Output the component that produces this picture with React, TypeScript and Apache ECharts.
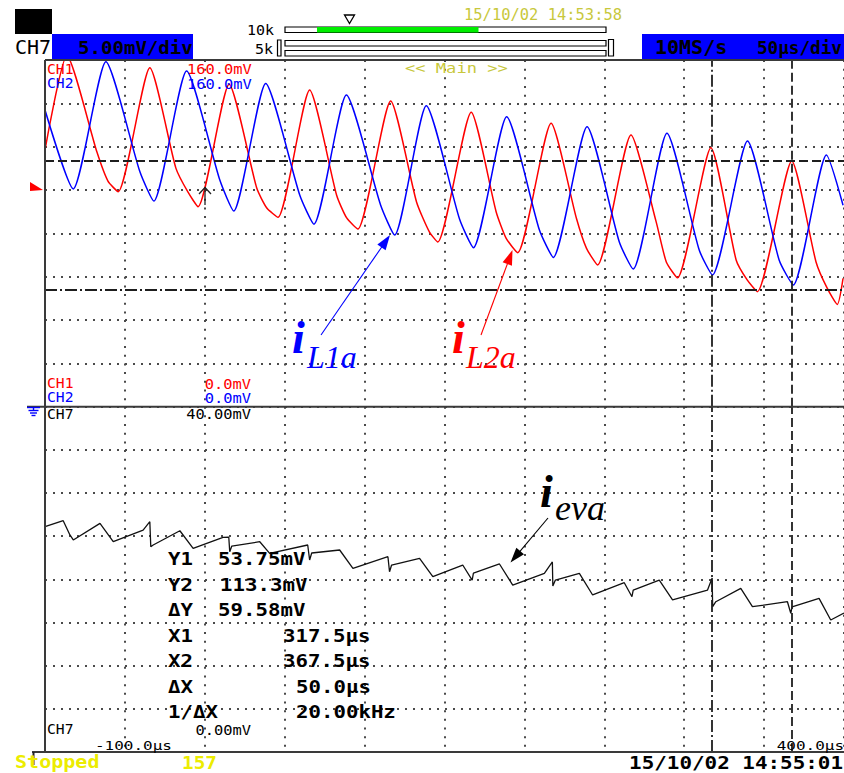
import React, { useEffect, useRef } from "react";
import * as echarts from "echarts";

// ---------------- data ----------------
const TIME_MIN = -100;
const TIME_MAX = 400;
const TIME_DIV = 50;
const CH12_MAX = 160;
const CH12_DIV = 20;
const CH7_MAX = 40;
const CH7_DIV = 5;

// CH1 (red, i_L2a) [µs, mV]
const ch1: number[][] = [
  [-100, 118.5], [-86.3, 162], [-67.5, 117.5], [-60.6, 104.1], [-54.2, 99.2],
  [-34.4, 156.4], [-18.1, 110.1], [-10.6, 99.1], [-4.2, 92.3],
  [15.2, 148.8], [32.5, 100.9], [38.8, 91.7], [45.8, 87.4],
  [65.6, 146.1], [82.5, 97.6], [88.8, 87.1], [95.8, 82.0],
  [116.3, 141.1], [132.5, 94.5], [140.6, 80.6], [145.8, 76.0],
  [166.7, 135.9], [182.3, 90.0], [188.6, 77.7], [195.8, 71.1],
  [216.7, 130.8], [232.5, 87.1], [238.8, 73.2], [245.8, 65.4],
  [266.7, 125.4], [282.5, 85.2], [288.8, 66.8], [295.8, 59.5],
  [316.7, 119.5], [332.5, 67.7], [339.4, 58.5], [345.8, 53.1],
  [367.3, 113.4], [382.5, 66.8], [389.4, 54.8], [395.8, 47.2],
  [399.4, 59.2],
];

// CH2 (blue, i_L1a) [µs, mV]
const ch2: number[][] = [
  [-100, 136.9], [-82.3, 100.5], [-61.9, 159.2], [-40.6, 108.4], [-31.9, 94.9],
  [-11.4, 154.9], [9.4, 104.6], [18.1, 90.3], [38.1, 149.2], [59.4, 97.7],
  [68.3, 84.2], [88.6, 143.8], [110.0, 93.1], [118.8, 79.2], [138.6, 138.9],
  [159.4, 86.6], [168.1, 73.4], [188.9, 133.8], [209.4, 81.5], [218.1, 68.9],
  [239.2, 129.2], [259.4, 76.0], [268.1, 63.5], [289.2, 126.2], [309.4, 72.3],
  [317.7, 60.8], [339.6, 122.6], [359.4, 67.7], [368.3, 56.2], [389.0, 116.2],
  [399.4, 93.0],
];

// CH7 (black, i_eva) [µs, mV]
const ch7: number[][] = [
  [-100, 26.1], [-88.6, 26.79], [-84.4, 25.14], [-82.3, 24.56], [-65.6, 26.49],
  [-57.3, 24.36], [-38.6, 25.71], [-34.4, 26.68], [-33.8, 23.78], [-32.3, 23.98],
  [-15.6, 25.63], [-7.3, 23.59], [11.4, 24.87], [15.0, 24.9], [15.6, 23.2],
  [16.9, 23.86], [34.4, 24.36], [40.6, 23.01], [64.4, 23.98], [65.6, 22.24],
  [66.9, 23.05], [84.4, 23.4], [92.7, 21.28], [114.6, 22.62], [115.6, 20.88],
  [116.9, 21.66], [134.4, 22.44], [142.7, 20.31], [161.4, 21.66], [167.3, 19.92],
  [168.1, 20.73], [184.4, 21.78], [192.7, 19.34], [212.5, 20.7], [217.5, 22.01],
  [217.8, 19.23], [219.4, 19.92], [234.4, 20.7], [242.7, 18.19], [262.5, 19.61],
  [267.3, 17.99], [268.1, 18.76], [284.4, 19.92], [292.7, 17.61], [314.6, 18.76],
  [317.5, 20.15], [317.8, 16.83], [319.8, 17.41], [335.4, 18.96], [342.7, 16.83],
  [364.6, 17.41], [366.7, 16.07], [367.5, 16.8], [384.4, 17.8], [391.7, 15.29],
  [400, 16.1],
];

const cursorX = [317.5, 367.5];
const cursorY = [53.75, 113.3];

const readoutNames = ["Y1", "Y2", "\u0394Y", "X1", "X2", "\u0394X", "1/\u0394X"];
const readoutValues = ["53.75mV", "113.3mV", "59.58mV", "317.5\u00b5s", "367.5\u00b5s", "50.0\u00b5s", "20.00kHz"];

const headerScale = "5.00mV/div";
const headerRate = "10MS/s";
const headerTime = "50\u00b5s/div";
const topDate = "15/10/02 14:53:58";
const bottomDate = "15/10/02 14:55:01";
const ch12Top = "160.0mV";
const ch12Zero = "0.0mV";
const ch7Top = "40.00mV";
const ch7Zero = "0.00mV";
const timeStart = "-100.0\u00b5s";
const timeEnd = "400.0\u00b5s";

// ---------------- styles ----------------
const MONO = "'DejaVu Sans Mono', 'Liberation Mono', monospace";
const SERIF = "'Liberation Serif', 'DejaVu Serif', serif";
const RED = "#ff0000";
const BLUE = "#0000ff";
const OLIVE = "#c8c83c";
const YEL = "#ecec00";
const FRAME = "#3a3a3a";

function txt(x: number, y: number, text: string, size: number, color: string, o: any = {}) {
  const align = o.align || "left";
  return {
    type: "text",
    x,
    y,
    scaleX: o.sx || 1,
    z: 120,
    style: {
      text,
      fill: color,
      font: `${o.italic ? "italic " : ""}${o.bold ? "bold " : ""}${size}px ${o.family || MONO}`,
      align,
      verticalAlign: "middle",
      textAlign: align,
      textVerticalAlign: "middle",
    },
  };
}

function ln(x1: number, y1: number, x2: number, y2: number, color: string, w: number) {
  return { type: "line", z: 110, shape: { x1, y1, x2, y2 }, style: { stroke: color, lineWidth: w } };
}

function arrow(x1: number, y1: number, x2: number, y2: number, color: string) {
  const dx = x2 - x1;
  const dy = y2 - y1;
  const L = Math.sqrt(dx * dx + dy * dy);
  const ux = dx / L;
  const uy = dy / L;
  const hl = 15;
  const hw = 5;
  const bx = x2 - ux * hl;
  const by = y2 - uy * hl;
  return [
    ln(x1, y1, bx + ux * 2, by + uy * 2, color, 1.1),
    {
      type: "polygon",
      z: 111,
      shape: { points: [[x2, y2], [bx - uy * hw, by + ux * hw], [bx + uy * hw, by - ux * hw]] },
      style: { fill: color },
    },
  ];
}

function rect(x: number, y: number, w: number, h: number, fill: string, stroke?: string) {
  return {
    type: "rect",
    z: 105,
    shape: { x, y, width: w, height: h },
    style: { fill, stroke: stroke || null, lineWidth: stroke ? 1.2 : 0 },
  };
}

const DASHED = [9, 4];
const DASHDOT = [12, 3, 2, 3];

export default function App() {
  const ref = useRef<HTMLDivElement>(null);

  useEffect(() => {
    if (!ref.current) return;
    const chart = echarts.init(ref.current, null, { renderer: "svg", width: 844, height: 773 });

    const rowY = [559, 585, 610, 636, 661, 687, 712];
    const valX = [218, 220, 218, 283, 283, 296, 296];

    const graphics: any[] = [
      // header
      rect(15, 9, 37, 25, "#000"),
      txt(15, 47, "CH7", 20, "#000"),
      rect(52, 34, 141, 26, BLUE),
      txt(78, 47.5, headerScale, 18, "#000", { bold: true, sx: 1.06 }),
      txt(247, 30.5, "10k", 14, "#000", { sx: 1.07 }),
      txt(255, 49, "5k", 14, "#000", { sx: 1.07 }),
      rect(285, 27, 321, 5.5, "#fff", "#000"),
      rect(317, 27, 161.5, 5.5, "#00ee00"),
      rect(277.5, 40, 3.5, 16, "#fff", "#000"),
      rect(285, 40.5, 321, 5.5, "#fff", "#000"),
      rect(285, 50.5, 321, 5.5, "#fff", "#000"),
      rect(608.5, 39.5, 5, 16.5, "#fff", "#000"),
      {
        type: "polygon",
        z: 110,
        shape: { points: [[344.5, 15], [354.5, 15], [349.5, 23.5]] },
        style: { fill: "none", stroke: "#000", lineWidth: 1.3 },
      },
      txt(464, 15.5, topDate, 15, OLIVE, { sx: 1.03 }),
      rect(642, 34, 203, 26, BLUE),
      txt(655, 47, headerRate, 20, "#000", { bold: true }),
      txt(757, 47, headerTime, 18, "#000", { bold: true, sx: 0.98 }),

      // frame
      ln(45, 60, 845, 60, FRAME, 2),
      ln(45, 60, 45, 752, FRAME, 2),
      ln(27, 406.7, 845, 406.7, FRAME, 2),
      ln(32, 752, 845, 752, FRAME, 2),
      ln(33.5, 752, 33.5, 765, "#222", 2),

      // trigger markers
      {
        type: "polygon",
        z: 110,
        shape: { points: [[30, 182], [43, 190], [30, 191]] },
        style: { fill: RED },
      },
      ln(205, 187, 205, 205, "#222", 1.3),
      {
        type: "polyline",
        z: 110,
        shape: { points: [[199, 194], [205, 187.5], [211, 194]] },
        style: { stroke: "#222", lineWidth: 1.3, fill: "none" },
      },
      // ground symbol
      ln(27, 407.5, 40, 407.5, BLUE, 1.4),
      ln(33.5, 407.5, 33.5, 410, BLUE, 1.4),
      ln(28.5, 410.5, 38.5, 410.5, BLUE, 1.4),
      ln(30, 413, 37, 413, BLUE, 1.4),
      ln(31.5, 415.5, 35.5, 415.5, BLUE, 1.4),

      // channel labels
      txt(47, 69, "CH1", 14, RED, { sx: 1.05 }),
      txt(187, 69, ch12Top, 14, RED, { sx: 1.1 }),
      txt(47, 83.5, "CH2", 14, BLUE, { sx: 1.05 }),
      txt(187, 83.5, ch12Top, 14, BLUE, { sx: 1.1 }),
      txt(405, 69, "<< Main >>", 14, OLIVE, { sx: 1.22 }),
      txt(47, 383.5, "CH1", 14, RED, { sx: 1.05 }),
      txt(251, 383.5, ch12Zero, 14, RED, { sx: 1.1, align: "right" }),
      txt(47, 397.5, "CH2", 14, BLUE, { sx: 1.05 }),
      txt(251, 397.5, ch12Zero, 14, BLUE, { sx: 1.1, align: "right" }),
      txt(47, 414, "CH7", 14, "#000", { sx: 1.05 }),
      txt(251, 414, ch7Top, 14, "#000", { sx: 1.1, align: "right" }),
      txt(47, 729.5, "CH7", 14, "#000", { sx: 1.05 }),
      txt(251, 729.5, ch7Zero, 14, "#000", { sx: 1.1, align: "right" }),
      txt(95, 745.5, timeStart, 13, "#000", { sx: 1.23 }),
      txt(844, 745.5, timeEnd, 13, "#000", { sx: 1.23, align: "right" }),

      // status line
      txt(15, 762.5, "Stopped", 17, YEL, { bold: true, sx: 1.18 }),
      txt(182, 762.5, "157", 17, YEL, { bold: true, sx: 1.14 }),
      txt(843, 762.5, bottomDate, 17, "#000", { bold: true, sx: 1.23, align: "right" }),

      // annotations
      txt(292, 337.5, "i", 46, BLUE, { bold: true, italic: true, family: SERIF }),
      txt(307, 356.5, "L1a", 32, BLUE, { italic: true, family: SERIF }),
      txt(452, 337.5, "i", 46, RED, { bold: true, italic: true, family: SERIF }),
      txt(466, 356.5, "L2a", 32, RED, { italic: true, family: SERIF }),
      txt(540, 491.5, "i", 46, "#000", { bold: true, italic: true, family: SERIF }),
      txt(555, 508, "eva", 36, "#000", { italic: true, family: SERIF }),
      ...arrow(321, 335, 390, 235, BLUE),
      ...arrow(481, 335, 512.5, 250, RED),
      ...arrow(548, 518, 510.5, 562.5, "#000"),
    ];

    readoutNames.forEach((n, i) => {
      graphics.push(txt(168, rowY[i], n, 17, "#000", { bold: true, sx: 1.22 }));
      graphics.push(txt(valX[i], rowY[i], readoutValues[i], 17, "#000", { bold: true, sx: 1.22 }));
    });

    const gridLine = (dash: number[]) => ({
      show: true,
      lineStyle: { color: "#4a4a4a", width: 2, type: dash },
    });

    const xAxisBase = (gridIndex: number) => ({
      type: "value",
      gridIndex,
      min: TIME_MIN,
      max: TIME_MAX,
      interval: TIME_DIV,
      axisLabel: { show: false },
      axisTick: { show: false },
      axisLine: { show: false },
      splitLine: gridLine([2, 6.67]),
    });

    const cursorStyle = (dash: number[]) => ({ color: "#1e1e1e", width: 1.8, type: dash });

    chart.setOption({
      animation: false,
      backgroundColor: "#ffffff",
      grid: [
        { left: 45, top: 60, width: 800, height: 346.7 },
        { left: 45, top: 406.7, width: 800, height: 345.3 },
      ],
      xAxis: [xAxisBase(0), xAxisBase(1)],
      yAxis: [
        {
          type: "value",
          gridIndex: 0,
          min: 0,
          max: CH12_MAX,
          interval: CH12_DIV,
          axisLabel: { show: false },
          axisTick: { show: false },
          axisLine: { show: false },
          splitLine: gridLine([2, 6]),
        },
        {
          type: "value",
          gridIndex: 1,
          min: 0,
          max: CH7_MAX,
          interval: CH7_DIV,
          axisLabel: { show: false },
          axisTick: { show: false },
          axisLine: { show: false },
          splitLine: gridLine([2, 6]),
        },
      ],
      series: [
        {
          type: "line",
          name: "CH1",
          xAxisIndex: 0,
          yAxisIndex: 0,
          data: ch1,
          showSymbol: false,
          smooth: 0.2,
          clip: true,
          lineStyle: { color: RED, width: 1.5 },
          markLine: {
            silent: true,
            symbol: ["none", "none"],
            label: { show: false },
            data: [
              { xAxis: cursorX[0], lineStyle: cursorStyle(DASHDOT) },
              { xAxis: cursorX[1], lineStyle: cursorStyle(DASHED) },
              { yAxis: cursorY[0], lineStyle: cursorStyle(DASHDOT) },
              { yAxis: cursorY[1], lineStyle: cursorStyle(DASHED) },
            ],
          },
        },
        {
          type: "line",
          name: "CH2",
          xAxisIndex: 0,
          yAxisIndex: 0,
          data: ch2,
          showSymbol: false,
          smooth: 0.2,
          clip: true,
          lineStyle: { color: BLUE, width: 1.5 },
        },
        {
          type: "line",
          name: "CH7",
          xAxisIndex: 1,
          yAxisIndex: 1,
          data: ch7,
          showSymbol: false,
          clip: true,
          lineStyle: { color: "#111", width: 1.3 },
          markLine: {
            silent: true,
            symbol: ["none", "none"],
            label: { show: false },
            data: [
              { xAxis: cursorX[0], lineStyle: cursorStyle(DASHDOT) },
              { xAxis: cursorX[1], lineStyle: cursorStyle(DASHED) },
            ],
          },
        },
      ],
      graphic: { elements: graphics },
    });

    return () => chart.dispose();
  }, []);

  return (
    <div
      ref={ref}
      style={{ position: "absolute", left: 0, top: 0, width: 844, height: 773, overflow: "hidden", background: "#fff" }}
    />
  );
}
